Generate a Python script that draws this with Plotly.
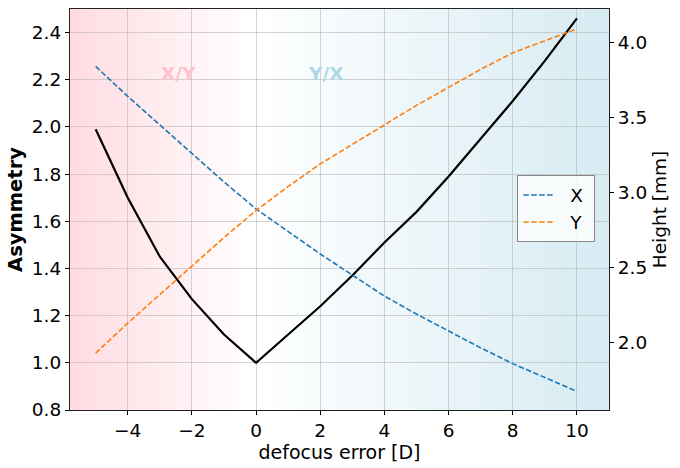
import plotly.graph_objects as go
import numpy as np

defocus = [-5, -4, -3, -2, -1, 0, 1, 2, 3, 4, 5, 6, 7, 8, 9, 10]
asymmetry = [1.99, 1.70, 1.45, 1.27, 1.12, 1.00, 1.12, 1.24, 1.37, 1.51, 1.64, 1.79, 1.95, 2.11, 2.28, 2.46]
height_x = [3.84, 3.64, 3.45, 3.26, 3.07, 2.89, 2.74, 2.59, 2.45, 2.31, 2.19, 2.075, 1.965, 1.86, 1.765, 1.675]
height_y = [1.93, 2.13, 2.32, 2.51, 2.70, 2.88, 3.04, 3.19, 3.32, 3.45, 3.58, 3.70, 3.82, 3.93, 4.01, 4.09]

x_range = [-5.8, 11.0]

fig = go.Figure()

# background gradient bands
shapes = []
step = 0.25
edges = np.arange(x_range[0], x_range[1] + 1e-9, step)
edges = np.append(edges, x_range[1]) if edges[-1] < x_range[1] else edges
for a, b in zip(edges[:-1], edges[1:]):
    c = (a + b) / 2
    if c < -0.5:
        alpha = 0.58 * abs(c) / abs(x_range[0])
        col = f"rgba(255,192,203,{alpha:.3f})"
    elif c > 0.5:
        alpha = 0.5 * c / x_range[1]
        col = f"rgba(173,216,230,{alpha:.3f})"
    else:
        continue
    shapes.append(dict(type="rect", xref="x", yref="paper", x0=a, x1=b, y0=0, y1=1,
                       fillcolor=col, line=dict(width=0), layer="below"))

fig.add_trace(go.Scatter(x=defocus, y=asymmetry, mode="lines",
                         line=dict(color="black", width=2.2), showlegend=False, yaxis="y"))
fig.add_trace(go.Scatter(x=defocus, y=height_x, mode="lines", name="\u00a0\u00a0X\u00a0",
                         line=dict(color="#1f77b4", width=1.6, dash="5.5px,2.4px"), yaxis="y2"))
fig.add_trace(go.Scatter(x=defocus, y=height_y, mode="lines", name="\u00a0\u00a0Y\u00a0",
                         line=dict(color="#ff7f0e", width=1.6, dash="5.5px,2.4px"), yaxis="y2"))

font = "DejaVu Sans"
grid = "rgba(176,176,176,0.55)"
tfs = 18.5

fig.update_layout(
    width=680, height=468,
    margin=dict(l=70, r=71, t=9, b=58),
    paper_bgcolor="white", plot_bgcolor="white",
    font=dict(family=font, size=tfs, color="black"),
    shapes=shapes,
    xaxis=dict(range=x_range, tickvals=[-4, -2, 0, 2, 4, 6, 8, 10],
               ticktext=["\u22124", "\u22122", "0", "2", "4", "6", "8", "10"],
               showgrid=True, gridcolor=grid, gridwidth=1, zeroline=False,
               ticks="outside", ticklen=4, tickcolor="black",
               showline=True, linecolor="#222", linewidth=1.2, mirror=True,
               title=dict(text="defocus error [D]", standoff=4, font=dict(size=19)),
               tickfont=dict(size=tfs)),
    yaxis=dict(range=[0.8, 2.5], tickvals=[0.8, 1.0, 1.2, 1.4, 1.6, 1.8, 2.0, 2.2, 2.4],
               tickformat=".1f", showgrid=True, gridcolor=grid, gridwidth=1, zeroline=False,
               ticks="outside", ticklen=4, tickcolor="black",
               showline=True, linecolor="#222", linewidth=1.2,
               title=dict(text="<b>Asymmetry</b>", standoff=3, font=dict(size=19.5)),
               tickfont=dict(size=tfs)),
    yaxis2=dict(range=[1.551, 4.222], tickvals=[2.0, 2.5, 3.0, 3.5, 4.0], tickformat=".1f",
                overlaying="y", side="right", showgrid=False, zeroline=False,
                ticks="outside", ticklen=4, tickcolor="black",
                showline=True, linecolor="#222", linewidth=1.2,
                title=dict(text="Height [mm]", standoff=6, font=dict(size=18.5)),
                tickfont=dict(size=tfs)),
    legend=dict(x=0.83, y=0.585, xanchor="left", yanchor="top",
                bgcolor="rgba(255,255,255,0.8)", bordercolor="#888", borderwidth=1,
                font=dict(size=tfs), itemwidth=30, tracegroupgap=2),
    annotations=[
        dict(x=-2.43, y=2.228, xref="x", yref="y", text="<b>X/Y</b>", showarrow=False,
             font=dict(size=18.5, color="pink")),
        dict(x=2.17, y=2.228, xref="x", yref="y", text="<b>Y/X</b>", showarrow=False,
             font=dict(size=18.5, color="lightblue")),
    ],
)

fig.write_html("out.html")
